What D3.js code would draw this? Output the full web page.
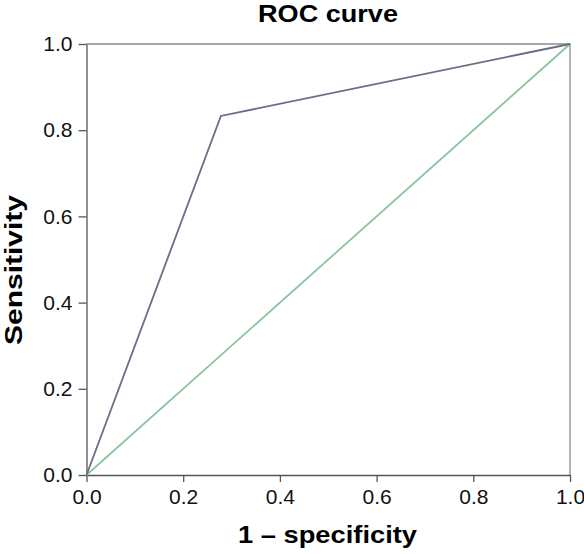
<!DOCTYPE html>
<html><head><meta charset="utf-8">
<script src="https://cdn.jsdelivr.net/npm/d3@7"></script>
<style>body{margin:0;background:#fff}svg{display:block}text{font-family:"Liberation Sans",Arial,sans-serif}</style>
</head><body><svg id="c" width="584" height="554"></svg>
<script>
const rocX = [0, 0.278, 1];
const rocY = [0, 0.833, 1];
const refX = [0, 1];
const refY = [0, 1];
const xTicks = [0, 0.2, 0.4, 0.6, 0.8, 1.0];
const yTicks = [0, 0.2, 0.4, 0.6, 0.8, 1.0];

const svg = d3.select("#c");
const L = 86.5, R = 570, T = 44, B = 475;
const x = d3.scaleLinear().domain([0, 1]).range([L, R]);
const y = d3.scaleLinear().domain([0, 1]).range([B, T]);

// frame top/right
svg.append("path").attr("d", `M${L},${T}H${R}V${B}`).attr("fill","none").attr("stroke","#8a8a8a").attr("stroke-width",1.3);

const xa = svg.append("g").attr("transform",`translate(0,${B})`)
  .call(d3.axisBottom(x).tickValues(xTicks).tickFormat(d3.format(".1f")).tickSize(7).tickSizeOuter(0).tickPadding(7));
const ya = svg.append("g").attr("transform",`translate(${L},0)`)
  .call(d3.axisLeft(y).tickValues(yTicks).tickFormat(d3.format(".1f")).tickSize(8).tickSizeOuter(0).tickPadding(6));
[xa, ya].forEach(a => {
  a.select(".domain").attr("stroke","#555").attr("stroke-width",1.3);
  a.selectAll(".tick line").attr("stroke","#555").attr("stroke-width",1.3);
  a.selectAll(".tick text").style("font-size","21px").attr("fill","#111");
});

const line = d3.line().x(d => x(d[0])).y(d => y(d[1]));
svg.append("path").datum(refX.map((v,i)=>[v,refY[i]])).attr("d",line)
  .attr("fill","none").attr("stroke","#8cc49f").attr("stroke-width",1.8);
svg.append("path").datum(rocX.map((v,i)=>[v,rocY[i]])).attr("d",line)
  .attr("fill","none").attr("stroke","#6a6d85").attr("stroke-width",1.8);

svg.append("text").attr("x",328).attr("y",22).attr("text-anchor","middle")
  .style("font-size","23px").attr("font-weight","bold")
  .attr("textLength",140).attr("lengthAdjust","spacingAndGlyphs").text("ROC curve");
svg.append("text").attr("x",327.5).attr("y",543).attr("text-anchor","middle")
  .style("font-size","24px").attr("font-weight","bold")
  .attr("textLength",179).attr("lengthAdjust","spacingAndGlyphs").text("1 – specificity");
svg.append("text").attr("transform","translate(22,270) rotate(-90)").attr("text-anchor","middle")
  .style("font-size","24px").attr("font-weight","bold")
  .attr("textLength",150).attr("lengthAdjust","spacingAndGlyphs").text("Sensitivity");
</script></body></html>
